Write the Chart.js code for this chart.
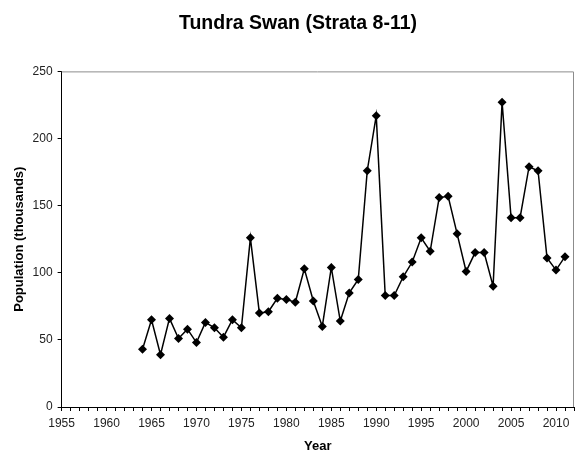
<!DOCTYPE html>
<html>
<head>
<meta charset="utf-8">
<script src="https://cdn.jsdelivr.net/npm/chart.js@4.4.0/dist/chart.umd.min.js"></script>
<style>
  html, body { margin: 0; padding: 0; background: #fff; }
  #wrap { width: 582px; height: 452px; }
</style>
</head>
<body>
<div id="wrap"><canvas id="swanChart"></canvas></div>
<script>
// survey years and population (thousands)
var years = [1964, 1965, 1966, 1967, 1968, 1969, 1970, 1971, 1972, 1973,
             1974, 1975, 1976, 1977, 1978, 1979, 1980, 1981, 1982, 1983,
             1984, 1985, 1986, 1987, 1988, 1989, 1990, 1991, 1992, 1993,
             1994, 1995, 1996, 1997, 1998, 1999, 2000, 2001, 2002, 2003,
             2004, 2005, 2006, 2007, 2008, 2009, 2010, 2011];
var population = [43, 65, 39, 66, 51, 58, 48, 63, 59, 52,
                  65, 59, 126, 70, 71, 81, 80, 78, 103, 79,
                  60, 104, 64, 85, 95, 176, 217, 83, 83, 97,
                  108, 126, 116, 156, 157, 129, 101, 115, 115, 90,
                  227, 141, 141, 179, 176, 111, 102, 112];
var yearRange = [1955, 2012];
var popRange = [0, 250];

var font = "'Liberation Sans', Arial, sans-serif";

// gray frame on the top and right of the plot area
var frame = {
    id: 'frame',
    afterDraw: function (chart) {
        var a = chart.chartArea;
        var ctx = chart.ctx;
        ctx.save();
        ctx.strokeStyle = '#8c8c8c';
        ctx.lineWidth = 1;
        ctx.beginPath();
        ctx.moveTo(a.left, a.top + 0.5);
        ctx.lineTo(a.right - 0.5, a.top + 0.5);
        ctx.lineTo(a.right - 0.5, a.bottom);
        ctx.stroke();
        ctx.restore();
    }
};

var points = years.map(function (y, i) { return { x: y, y: population[i] }; });

new Chart(document.getElementById('swanChart'), {
    type: 'line',
    data: {
        datasets: [{
            data: points,
            borderColor: '#000',
            borderWidth: 1.5,
            backgroundColor: '#000',
            pointStyle: 'rectRot',
            pointRadius: 4.5,
            pointBackgroundColor: '#000',
            pointBorderWidth: 0,
            tension: 0
        }]
    },
    options: {
        responsive: true,
        maintainAspectRatio: false,
        animation: false,
        layout: { padding: { left: 22, right: 8, top: 12, bottom: 0 } },
        plugins: {
            legend: { display: false },
            tooltip: { enabled: false },
            title: {
                display: true,
                text: 'Tundra Swan (Strata 8-11)',
                color: '#000',
                font: { family: font, size: 19.5, weight: 'bold' },
                padding: { top: 0, bottom: 36 }
            }
        },
        scales: {
            x: {
                type: 'linear',
                min: yearRange[0],
                max: yearRange[1],
                border: { color: '#000', width: 1 },
                grid: { drawOnChartArea: false, color: '#000', tickLength: 4 },
                ticks: {
                    stepSize: 1,
                    autoSkip: false,
                    maxRotation: 0,
                    color: '#222',
                    padding: 5,
                    font: { family: font, size: 12 },
                    callback: function (v) { return v % 5 === 0 ? String(v) : ''; }
                },
                title: {
                    display: true,
                    text: 'Year',
                    color: '#000',
                    font: { family: font, size: 13, weight: 'bold' },
                    padding: { top: 3, bottom: -2 }
                }
            },
            y: {
                min: popRange[0],
                max: popRange[1],
                border: { color: '#000', width: 1 },
                grid: { drawOnChartArea: false, color: '#000', tickLength: 4 },
                ticks: {
                    stepSize: 50,
                    color: '#222',
                    padding: 5,
                    font: { family: font, size: 12 }
                },
                title: {
                    display: true,
                    text: 'Population (thousands)',
                    color: '#000',
                    font: { family: font, size: 13, weight: 'bold' },
                    padding: { top: -10, bottom: 0 }
                }
            }
        }
    },
    plugins: [frame]
});
</script>
</body>
</html>
